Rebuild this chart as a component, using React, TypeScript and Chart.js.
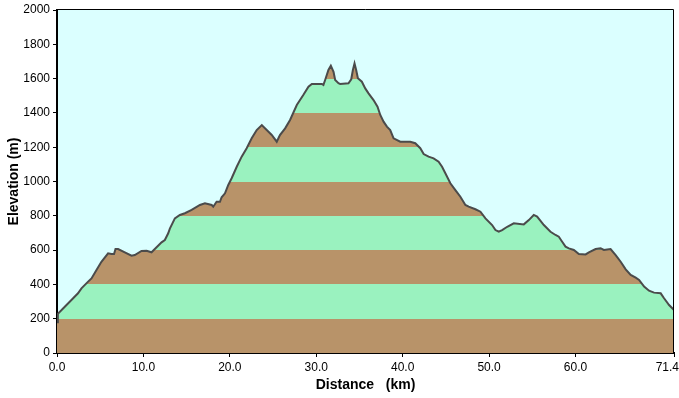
import React, { useEffect, useRef } from "react";
import { Chart, registerables } from "chart.js";

Chart.register(...registerables);

const distKm: number[] = [
  0, 0.1, 0.9, 1.67, 2.43, 2.83, 3.6, 3.99, 4.57, 5.14, 5.91, 6.3, 6.6, 6.77, 7.07, 7.85, 8.62, 9.0, 9.78, 10.36,
  10.94, 11.32, 12.1, 12.48, 12.87, 13.06, 13.64, 14.22, 14.8, 15.58, 16.54, 17.12, 17.9, 18.08, 18.47, 18.86,
  19.05, 19.44, 19.82, 20.21, 20.8, 21.37, 21.95, 22.53, 23.11, 23.7, 24.27, 24.85, 25.43, 25.8, 26.4, 26.97,
  27.75, 28.5, 29.1, 29.49, 30.65, 30.83, 31.03, 31.41, 31.69, 32.0, 32.19, 32.57, 32.77, 33.73, 34.05, 34.24,
  34.43, 34.62, 34.82, 35.28, 35.67, 36.05, 36.63, 37.09, 37.41, 37.79, 38.18, 38.56, 38.95, 39.72, 40.88,
  41.46, 42.04, 42.43, 43.0, 43.58, 44.16, 44.56, 44.94, 45.52, 46.1, 46.68, 47.26, 47.64, 48.42, 49.0, 49.58,
  50.35, 50.74, 51.12, 51.51, 52.1, 52.86, 54.02, 54.6, 55.17, 55.56, 56.34, 57.11, 57.69, 58.07, 58.46, 58.85,
  59.23, 59.81, 60.39, 61.17, 61.55, 62.33, 62.91, 63.29, 63.68, 64.06, 64.65, 65.23, 65.81, 66.39, 66.97,
  67.36, 67.94, 68.51, 69.09, 69.86, 70.25, 70.83, 71.4,
];

const elevM: number[] = [
  180, 228, 270, 309, 348, 377, 416, 435, 484, 532, 581, 577, 577, 606, 606, 587, 567, 571, 595, 596,
  587, 606, 645, 659, 698, 725, 785, 805, 815, 834, 863, 873, 863, 853, 882, 882,
  908, 931, 980, 1019, 1086, 1145, 1194, 1252, 1300, 1329, 1300, 1271, 1232, 1271, 1310, 1359,
  1446, 1504, 1553, 1569, 1569, 1563, 1592, 1650, 1675, 1640, 1592, 1573, 1569, 1573, 1596, 1650,
  1689, 1650, 1602, 1582, 1543, 1514, 1475, 1436, 1388, 1349, 1320, 1300, 1252, 1232, 1232,
  1223, 1194, 1160, 1145, 1135, 1116, 1086, 1048, 990, 950, 911, 863, 853, 838, 824, 785,
  746, 717, 707, 717, 736, 756, 750, 775, 805, 795, 746, 707, 688, 678, 649, 620,
  610, 601, 577, 575, 587, 606, 610, 601, 604, 606, 571, 532, 488, 455, 439,
  426, 387, 363, 352, 348, 319, 280, 251,
];

const xTickValues: number[] = [0, 10, 20, 30, 40, 50, 60, 71.4];
const bandEdges: number[] = [0, 200, 400, 600, 800, 1000, 1200, 1400, 1600, 1800, 2000];

const BROWN = "#b89369";
const GREEN = "#9af2bf";
const PLOT_BG = "#dbffff";
const FONT = "'Liberation Sans', Arial, sans-serif";

const plotFrame = {
  id: "plotFrame",
  beforeDraw(chart: any) {
    const { ctx, chartArea } = chart;
    if (!chartArea) return;
    ctx.save();
    ctx.fillStyle = PLOT_BG;
    ctx.fillRect(chartArea.left, chartArea.top, chartArea.right - chartArea.left, chartArea.bottom - chartArea.top);
    ctx.restore();
  },
  afterDraw(chart: any) {
    const { ctx, chartArea } = chart;
    if (!chartArea) return;
    ctx.save();
    ctx.strokeStyle = "#000";
    ctx.lineWidth = 1;
    ctx.beginPath();
    ctx.moveTo(chartArea.left, Math.floor(chartArea.top) - 0.5);
    ctx.lineTo(Math.floor(chartArea.right) - 0.5, Math.floor(chartArea.top) - 0.5);
    ctx.lineTo(Math.floor(chartArea.right) - 0.5, chartArea.bottom);
    ctx.stroke();
    ctx.restore();
  },
};

function bandFill(context: any) {
  const chart = context.chart;
  const { chartArea, scales } = chart;
  if (!chartArea || !scales.y) return BROWN;
  const y = scales.y;
  const y0 = y.getPixelForValue(bandEdges[0]);
  const y1 = y.getPixelForValue(bandEdges[bandEdges.length - 1]);
  const g = chart.ctx.createLinearGradient(0, y0, 0, y1);
  const span = bandEdges[bandEdges.length - 1] - bandEdges[0];
  for (let i = 0; i < bandEdges.length - 1; i++) {
    const c = i % 2 === 0 ? BROWN : GREEN;
    const a = (bandEdges[i] - bandEdges[0]) / span;
    const b = (bandEdges[i + 1] - bandEdges[0]) / span;
    g.addColorStop(a, c);
    g.addColorStop(b, c);
  }
  return g;
}

export default function App() {
  const canvasRef = useRef<HTMLCanvasElement | null>(null);

  useEffect(() => {
    const canvas = canvasRef.current;
    if (!canvas) return;
    const points = distKm.map((d, i) => ({ x: d, y: elevM[i] }));
    const lastTick = xTickValues[xTickValues.length - 1];
    const chart = new Chart(canvas, {
      type: "line",
      data: {
        datasets: [
          {
            data: points,
            borderColor: "#4b4b4b",
            borderWidth: 2,
            pointRadius: 0,
            tension: 0,
            fill: "origin",
            backgroundColor: bandFill,
          },
        ],
      },
      options: {
        animation: false,
        responsive: false,
        maintainAspectRatio: false,
        devicePixelRatio: 1,
        layout: { padding: { left: 0, right: 5, top: 10, bottom: 0 } },
        plugins: { legend: { display: false }, tooltip: { enabled: false } },
        scales: {
          x: {
            type: "linear",
            min: 0,
            max: lastTick,
            afterBuildTicks: (scale: any) => {
              scale.ticks = xTickValues.map((v) => ({ value: v }));
            },
            afterFit: (scale: any) => {
              scale.height = 45;
              scale.paddingLeft = 0;
              scale.paddingRight = 0;
            },
            ticks: {
              autoSkip: false,
              maxRotation: 0,
              minRotation: 0,
              padding: 3,
              color: "#000",
              font: { family: FONT, size: 12 },
              callback: (v: any) => {
                const s = Number(v).toFixed(1);
                return Number(v) === lastTick ? s + "    " : s;
              },
            },
            grid: { drawOnChartArea: false, drawTicks: true, tickLength: 4, color: "#000", lineWidth: 1 },
            border: { display: true, color: "#000", width: 2 },
            title: {
              display: true,
              text: "Distance   (km)",
              color: "#000",
              font: { family: FONT, size: 14, weight: "bold" },
              padding: { top: 0, bottom: 4 },
            },
          },
          y: {
            type: "linear",
            min: 0,
            max: 2000,
            afterFit: (scale: any) => {
              scale.width = 57;
              scale.paddingTop = 0;
              scale.paddingBottom = 0;
            },
            ticks: {
              stepSize: 200,
              padding: 3,
              color: "#000",
              font: { family: FONT, size: 12 },
              callback: (v: any) => String(v),
            },
            grid: { drawOnChartArea: false, drawTicks: true, tickLength: 4, color: "#000", lineWidth: 1 },
            border: { display: true, color: "#000", width: 2 },
            title: {
              display: true,
              text: "Elevation (m)",
              color: "#000",
              font: { family: FONT, size: 14, weight: "bold" },
              padding: { top: 6, bottom: 0 },
            },
          },
        },
      },
      plugins: [plotFrame],
    });
    return () => chart.destroy();
  }, []);

  return (
    <div style={{ position: "fixed", left: 0, top: 0, width: 679, height: 398, background: "#fff" }}>
      <canvas ref={canvasRef} width={679} height={398} style={{ display: "block", width: 679, height: 398 }} />
    </div>
  );
}
